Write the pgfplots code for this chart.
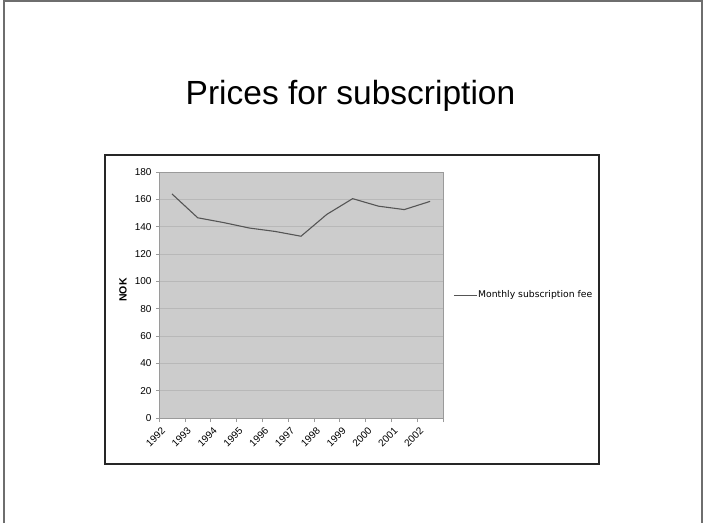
\documentclass[border=0pt]{standalone}
\usepackage{fontspec}
\setmainfont{Liberation Sans}
\newfontfamily\legendfont{DejaVu Sans}
\usepackage{pgfplots}
\pgfplotsset{compat=1.18}
\definecolor{plotbg}{HTML}{CCCCCC}
\definecolor{gridc}{HTML}{B8B8B8}
\definecolor{linec}{HTML}{555555}
\definecolor{axisc}{HTML}{9A9A9A}
\definecolor{framec}{HTML}{6E6E6E}

\begin{document}
\begin{tikzpicture}
\useasboundingbox (0pt,0pt) rectangle (705pt,523pt);
\fill[white] (0pt,0pt) rectangle (705pt,523pt);
\draw[framec, line width=1.2pt] (4pt,0pt) -- (4pt,522pt) -- (702pt,522pt) -- (702pt,0pt);
\node[font=\fontsize{33.5}{36}\selectfont, anchor=base, inner sep=0pt] at (350.5pt,418pt) {Prices for subscription};
\draw[black!85, line width=1.3pt] (105pt,59pt) rectangle (599pt,368pt);
\begin{axis}[
  at={(159pt,105pt)}, anchor=south west,
  scale only axis, width=284pt, height=246pt,
  xmin=-0.5, xmax=10.5, ymin=0, ymax=180,
  axis background/.style={fill=plotbg},
  axis line style={axisc, line width=0.8pt},
  tick align=outside,
  xtick pos=bottom, ytick pos=left,
  xtick={0,1,...,10},
  xticklabels={1992,1993,1994,1995,1996,1997,1998,1999,2000,2001,2002},
  major x tick style={draw=none},
  minor xtick={-0.5,0.5,...,10.5},
  minor tick length=4pt,
  major tick length=3pt,
  tick style={axisc, line width=0.6pt},
  ytick={0,20,...,180},
  ymajorgrids,
  major grid style={gridc, line width=0.6pt},
  /pgf/number format/assume math mode=true,
  yticklabel style={font=\fontsize{10}{12}\selectfont, xshift=-1pt},
  xticklabel style={font=\fontsize{10}{12}\selectfont, xshift=-11pt, yshift=-1pt, rotate=45, anchor=north east},
  ylabel={NOK},
  ylabel style={font=\bfseries\fontsize{10.5}{12}\selectfont, at={(axis description cs:-0.127,0.52)}, anchor=center},
  legend style={at={(axis description cs:1.036,0.5)}, anchor=west, draw=none, fill=none,
    font=\legendfont\fontsize{9.25}{11}\selectfont, inner sep=0pt,
    nodes={inner sep=1pt}},
  legend image code/.code={\draw[#1, line width=0.8pt] (0pt,0pt) -- (23pt,0pt);},
]
\addplot[linec, line width=1.1pt] coordinates {
  (0,164) (1,146.5) (2,143) (3,139) (4,136.5) (5,133) (6,149) (7,160.5) (8,155) (9,152.5) (10,158.5)
};
\addlegendentry{Monthly subscription fee}
\end{axis}
\end{tikzpicture}
\end{document}
